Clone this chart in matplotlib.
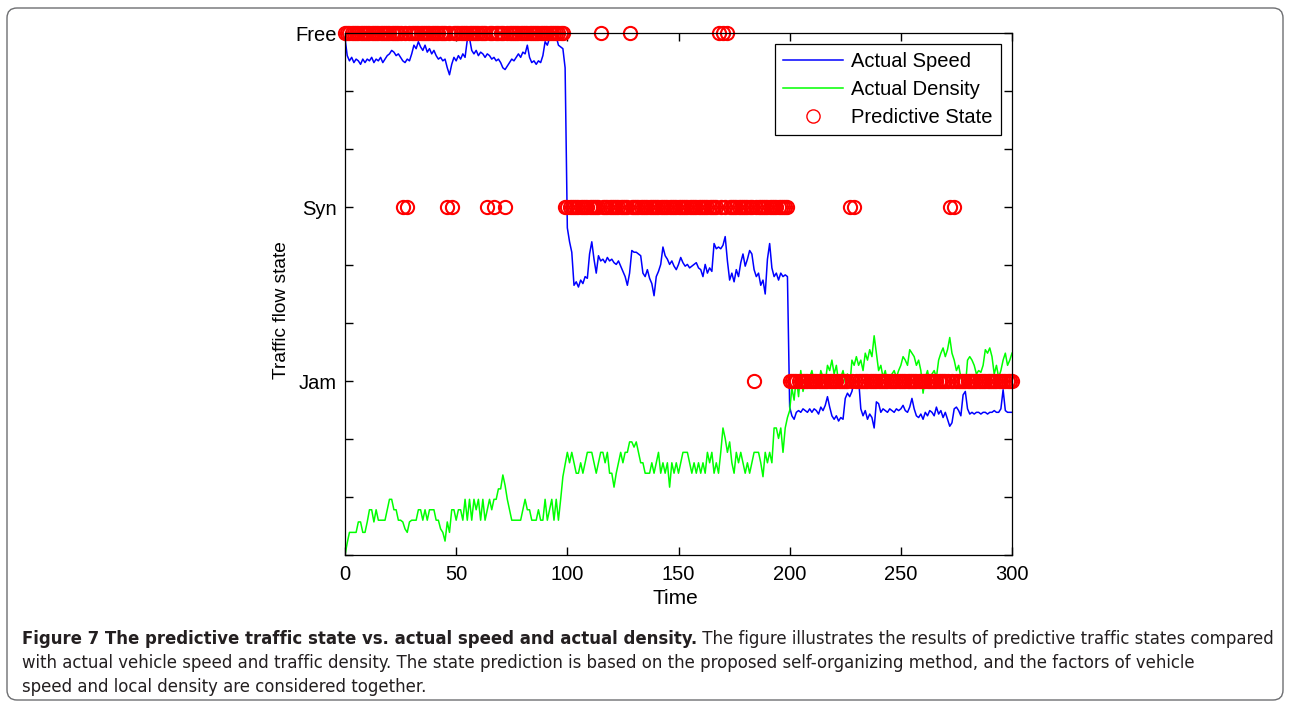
import os
import numpy as np
import matplotlib
matplotlib.use('Agg')
from matplotlib import pyplot as plt
from matplotlib import font_manager
from matplotlib.patches import FancyBboxPatch

#Time axis (one sample per time step)
time = np.arange(0, 301)

#Actual speed, scaled to the state axis
speed = [
    2.97, 2.87, 2.84, 2.86, 2.83, 2.85, 2.84, 2.82, 2.85, 2.83,
    2.85, 2.84, 2.86, 2.83, 2.85, 2.84, 2.86, 2.83, 2.85, 2.87,
    2.88, 2.90, 2.89, 2.87, 2.88, 2.86, 2.84, 2.83, 2.85, 2.84,
    2.88, 2.93, 2.91, 2.95, 2.92, 2.90, 2.93, 2.89, 2.91, 2.88,
    2.90, 2.87, 2.85, 2.86, 2.84, 2.85, 2.80, 2.76, 2.82, 2.86,
    2.84, 2.87, 2.85, 2.88, 2.86, 2.96, 2.97, 2.90, 2.88, 2.90,
    2.87, 2.89, 2.88, 2.86, 2.88, 2.87, 2.85, 2.86, 2.84, 2.85,
    2.83, 2.80, 2.79, 2.81, 2.83, 2.85, 2.84, 2.86, 2.88, 2.86,
    2.89, 2.88, 2.93, 2.86, 2.83, 2.84, 2.82, 2.84, 2.83, 2.87,
    2.95, 2.93, 2.97, 2.99, 3.00, 2.98, 2.93, 2.92, 2.91, 2.80,
    1.88, 1.80, 1.74, 1.55, 1.57, 1.54, 1.58, 1.56, 1.60, 1.59,
    1.73, 1.80, 1.70, 1.62, 1.72, 1.69, 1.70, 1.68, 1.71, 1.69,
    1.70, 1.68, 1.67, 1.69, 1.66, 1.63, 1.60, 1.55, 1.62, 1.75,
    1.74, 1.74, 1.73, 1.72, 1.62, 1.60, 1.64, 1.59, 1.56, 1.49,
    1.60, 1.63, 1.67, 1.77, 1.72, 1.70, 1.67, 1.69, 1.66, 1.64,
    1.67, 1.71, 1.68, 1.66, 1.67, 1.65, 1.66, 1.67, 1.68, 1.65,
    1.64, 1.60, 1.67, 1.62, 1.65, 1.63, 1.79, 1.76, 1.77, 1.76,
    1.78, 1.83, 1.69, 1.58, 1.62, 1.57, 1.64, 1.60, 1.68, 1.73,
    1.66, 1.70, 1.75, 1.73, 1.64, 1.60, 1.62, 1.55, 1.58, 1.50,
    1.70, 1.79, 1.65, 1.60, 1.62, 1.58, 1.62, 1.60, 1.61, 1.60,
    0.85, 0.80, 0.78, 0.82, 0.83, 0.82, 0.84, 0.83, 0.82, 0.84,
    0.82, 0.84, 0.83, 0.81, 0.85, 0.83, 0.86, 0.91, 0.85, 0.80,
    0.78, 0.80, 0.77, 0.79, 0.78, 0.90, 0.93, 0.91, 0.94, 1.00,
    0.99, 1.01, 0.84, 0.80, 0.83, 0.78, 0.81, 0.79, 0.73, 0.88,
    0.87, 0.82, 0.84, 0.83, 0.82, 0.84, 0.83, 0.82, 0.84, 0.83,
    0.84, 0.86, 0.83, 0.82, 0.85, 0.90, 0.84, 0.80, 0.79, 0.81,
    0.78, 0.82, 0.80, 0.83, 0.82, 0.80, 0.85, 0.81, 0.83, 0.79,
    0.82, 0.78, 0.74, 0.76, 0.84, 0.85, 0.83, 0.80, 0.92, 0.94,
    0.84, 0.81, 0.82, 0.81, 0.82, 0.82, 0.81, 0.82, 0.82, 0.81,
    0.82, 0.82, 0.83, 0.82, 0.82, 0.84, 0.95, 0.83, 0.82, 0.82,
    0.82,
]

#Actual density, scaled to the state axis
density = [
    0.00, 0.07, 0.13, 0.13, 0.13, 0.13, 0.19, 0.19, 0.13, 0.13,
    0.19, 0.26, 0.26, 0.19, 0.26, 0.20, 0.20, 0.20, 0.20, 0.26,
    0.32, 0.32, 0.26, 0.26, 0.20, 0.20, 0.19, 0.15, 0.13, 0.19,
    0.20, 0.20, 0.20, 0.26, 0.26, 0.20, 0.26, 0.20, 0.26, 0.26,
    0.26, 0.20, 0.20, 0.15, 0.13, 0.08, 0.19, 0.13, 0.26, 0.26,
    0.20, 0.26, 0.26, 0.20, 0.32, 0.20, 0.32, 0.20, 0.32, 0.26,
    0.32, 0.20, 0.32, 0.20, 0.26, 0.32, 0.26, 0.32, 0.32, 0.38,
    0.38, 0.46, 0.40, 0.32, 0.26, 0.20, 0.20, 0.20, 0.20, 0.20,
    0.26, 0.32, 0.26, 0.26, 0.20, 0.20, 0.20, 0.26, 0.20, 0.20,
    0.32, 0.20, 0.26, 0.32, 0.20, 0.32, 0.20, 0.32, 0.45, 0.52,
    0.59, 0.53, 0.59, 0.53, 0.47, 0.47, 0.53, 0.47, 0.53, 0.59,
    0.59, 0.59, 0.53, 0.47, 0.53, 0.59, 0.59, 0.53, 0.59, 0.47,
    0.47, 0.39, 0.47, 0.53, 0.59, 0.53, 0.59, 0.59, 0.65, 0.65,
    0.62, 0.65, 0.59, 0.53, 0.53, 0.47, 0.47, 0.47, 0.53, 0.47,
    0.53, 0.59, 0.47, 0.53, 0.47, 0.53, 0.39, 0.53, 0.47, 0.53,
    0.47, 0.53, 0.59, 0.59, 0.59, 0.53, 0.47, 0.53, 0.47, 0.53,
    0.47, 0.53, 0.47, 0.59, 0.53, 0.59, 0.47, 0.53, 0.47, 0.59,
    0.73, 0.67, 0.59, 0.65, 0.53, 0.47, 0.59, 0.53, 0.59, 0.53,
    0.47, 0.53, 0.47, 0.53, 0.59, 0.59, 0.59, 0.53, 0.45, 0.59,
    0.53, 0.59, 0.53, 0.73, 0.73, 0.67, 0.73, 0.59, 0.73, 0.79,
    0.83, 0.96, 0.89, 1.02, 0.91, 1.06, 0.94, 1.00, 0.96, 1.02,
    1.06, 0.99, 1.02, 0.96, 1.06, 1.02, 0.99, 1.09, 1.06, 1.12,
    1.04, 1.09, 0.99, 1.02, 1.06, 0.99, 1.04, 0.96, 1.12, 1.09,
    1.14, 1.09, 1.12, 1.06, 1.16, 1.12, 1.18, 1.14, 1.26, 1.16,
    1.06, 1.09, 1.02, 1.06, 0.99, 0.99, 1.04, 1.06, 1.02, 1.06,
    1.09, 1.14, 1.12, 1.09, 1.18, 1.16, 1.14, 1.09, 1.12, 1.06,
    0.93, 1.02, 1.06, 0.99, 1.04, 1.06, 1.02, 1.12, 1.16, 1.19,
    1.14, 1.18, 1.25, 1.16, 1.12, 1.06, 1.09, 1.02, 0.99, 0.96,
    1.12, 1.14, 1.12, 1.09, 1.04, 1.06, 1.05, 1.09, 1.18, 1.16,
    1.19, 1.14, 1.04, 1.09, 1.02, 1.06, 1.12, 1.16, 1.09, 1.12,
    1.16,
]

#Predicted state per time step (F = Free, S = Syn, J = Jam), groups of 10
pred_codes = (
    "FFFFFFFFFF FFFFFFFFFF FFFFFFSFSF FFFFFFFFFF FFFFFFSFSF "
    "FFFFFFFFFF FFFFSFFSFF FFSFFFFFFF FFFFFFFFFF FFFFFFFFFS "
    "SSSSSSSSSS SSSSSFSSSS SSSSSSSSFS SSSSSSSSSS SSSSSSSSSS "
    "SSSSSSSSSS SSSSSSSSFS FSFSSSSSSS SSSSJSSSSS SSSSSSSSSS "
    "JJJJJJJJJJ JJJJJJJJJJ JJJJJJJSJS JJJJJJJJJJ JJJJJJJJJJ "
    "JJJJJJJJJJ JJJJJJJJJJ JJSJSJJJJJ JJJJJJJJJJ JJJJJJJJJJ "
    "J"
).replace(" ", "")

state_level = {'J': 1, 'S': 2, 'F': 3}
state_labels = ['Jam', 'Syn', 'Free']

pred = [state_level[c] for c in pred_codes]
assert len(speed) == len(density) == len(pred) == len(time)

plt.rcParams['font.family'] = ['Liberation Sans', 'DejaVu Sans']

#%%
#Figure and axes placed like the original page
fig = plt.figure(figsize=(12.89, 7.06), dpi=100)
ax = fig.add_axes([345/1289, 1 - 555/706, 667/1289, 522/706])

ax.plot(time, speed, color='#0000ff', lw=1.1, label='Actual Speed')
ax.plot(time, density, color='#00ff00', lw=1.1, label='Actual Density')
ax.plot(time, pred, linestyle='none', marker='o', ms=9.5, mfc='none',
        mec='#ff0000', mew=1.5, clip_on=False, label='Predictive State')

#Formatting
ax.set_xlim(0, 300)
ax.set_ylim(0, 3)
ax.set_xticks(range(0, 301, 50))
yt = np.arange(0, 10) / 3
ax.set_yticks(yt)
ax.set_yticklabels(['' if i % 3 else state_labels[i // 3 - 1] if i else ''
                    for i in range(10)])
ax.tick_params(direction='in', top=True, right=True, length=6, width=1,
               labelsize=14.5, colors='black')
ax.tick_params(axis='x', pad=7)
ax.tick_params(axis='y', pad=6)
for sp in ax.spines.values():
    sp.set_linewidth(0.9)

ax.set_xlabel('Time', fontsize=15)
ax.xaxis.set_label_coords(0.495, -0.066)
ax.xaxis.label.set_va('top')
ax.set_ylabel('Traffic flow state', fontsize=13.8)
ax.yaxis.set_label_coords(-0.082, 0.47)

leg = ax.legend(loc='upper right', fontsize=14.5, numpoints=1,
                fancybox=False, framealpha=1, edgecolor='black',
                handlelength=3.0, handletextpad=0.4, labelspacing=0.45,
                borderaxespad=0.55, borderpad=0.4)
leg.get_frame().set_linewidth(0.9)
for h in leg.legend_handles[2:]:
    h.set_markeredgewidth(1.0)

#Rounded frame round the whole figure
frame = FancyBboxPatch((0.07, 0.06), 12.76, 6.92,
                       boxstyle='round,pad=0,rounding_size=0.1',
                       transform=fig.dpi_scale_trans, fill=False,
                       edgecolor='#6d6e71', lw=1.0)
fig.patches.append(frame)

#Caption font: a condensed face if one is installed
def find_face(bold):
    for f in font_manager.fontManager.ttflist:
        nm = os.path.basename(f.fname).lower()
        if not ('condensed' in nm or 'narrow' in nm):
            continue
        if any(k in nm for k in ['italic', 'oblique', 'semi', 'extra', 'light',
                                  'medium', 'black', 'thin', 'ultra']):
            continue
        if ('bold' in nm) == bold:
            return font_manager.FontProperties(fname=f.fname)
    return font_manager.FontProperties(family='Open Sans',
                                       weight='bold' if bold else 'normal')

cap_reg = find_face(False)
cap_bold = find_face(True)

caption_title = 'Figure 7 The predictive traffic state vs. actual speed and actual density.'
caption_lines = [
    ' The figure illustrates the results of predictive traffic states compared',
    'with actual vehicle speed and traffic density. The state prediction is based on the proposed self-organizing method, and the factors of vehicle',
    'speed and local density are considered together.',
]
cap_color = '#231f20'
x0 = 22 / 1289
base_y = [1 - 644/706, 1 - 668/706, 1 - 692/706]

size = 13.5
t_bold = fig.text(x0, base_y[0], caption_title, fontproperties=cap_bold,
                  fontsize=size, color=cap_color, va='baseline')
t_first = fig.text(x0, base_y[0], caption_lines[0], fontproperties=cap_reg,
                   fontsize=size, color=cap_color, va='baseline')
t_rest = [fig.text(x0, y, s, fontproperties=cap_reg, fontsize=size,
                   color=cap_color, va='baseline')
          for y, s in zip(base_y[1:], caption_lines[1:])]

#Fit first caption line to the page width
r = fig.canvas.get_renderer()
w = t_bold.get_window_extent(r).width + t_first.get_window_extent(r).width
size = size * 1253 / w
for t in [t_bold, t_first] + t_rest:
    t.set_fontsize(size)
r = fig.canvas.get_renderer()
bb = t_bold.get_window_extent(r)
t_first.set_x(bb.x1 / fig.bbox.width)

#Saving
plt.savefig('out.png', dpi=100)
